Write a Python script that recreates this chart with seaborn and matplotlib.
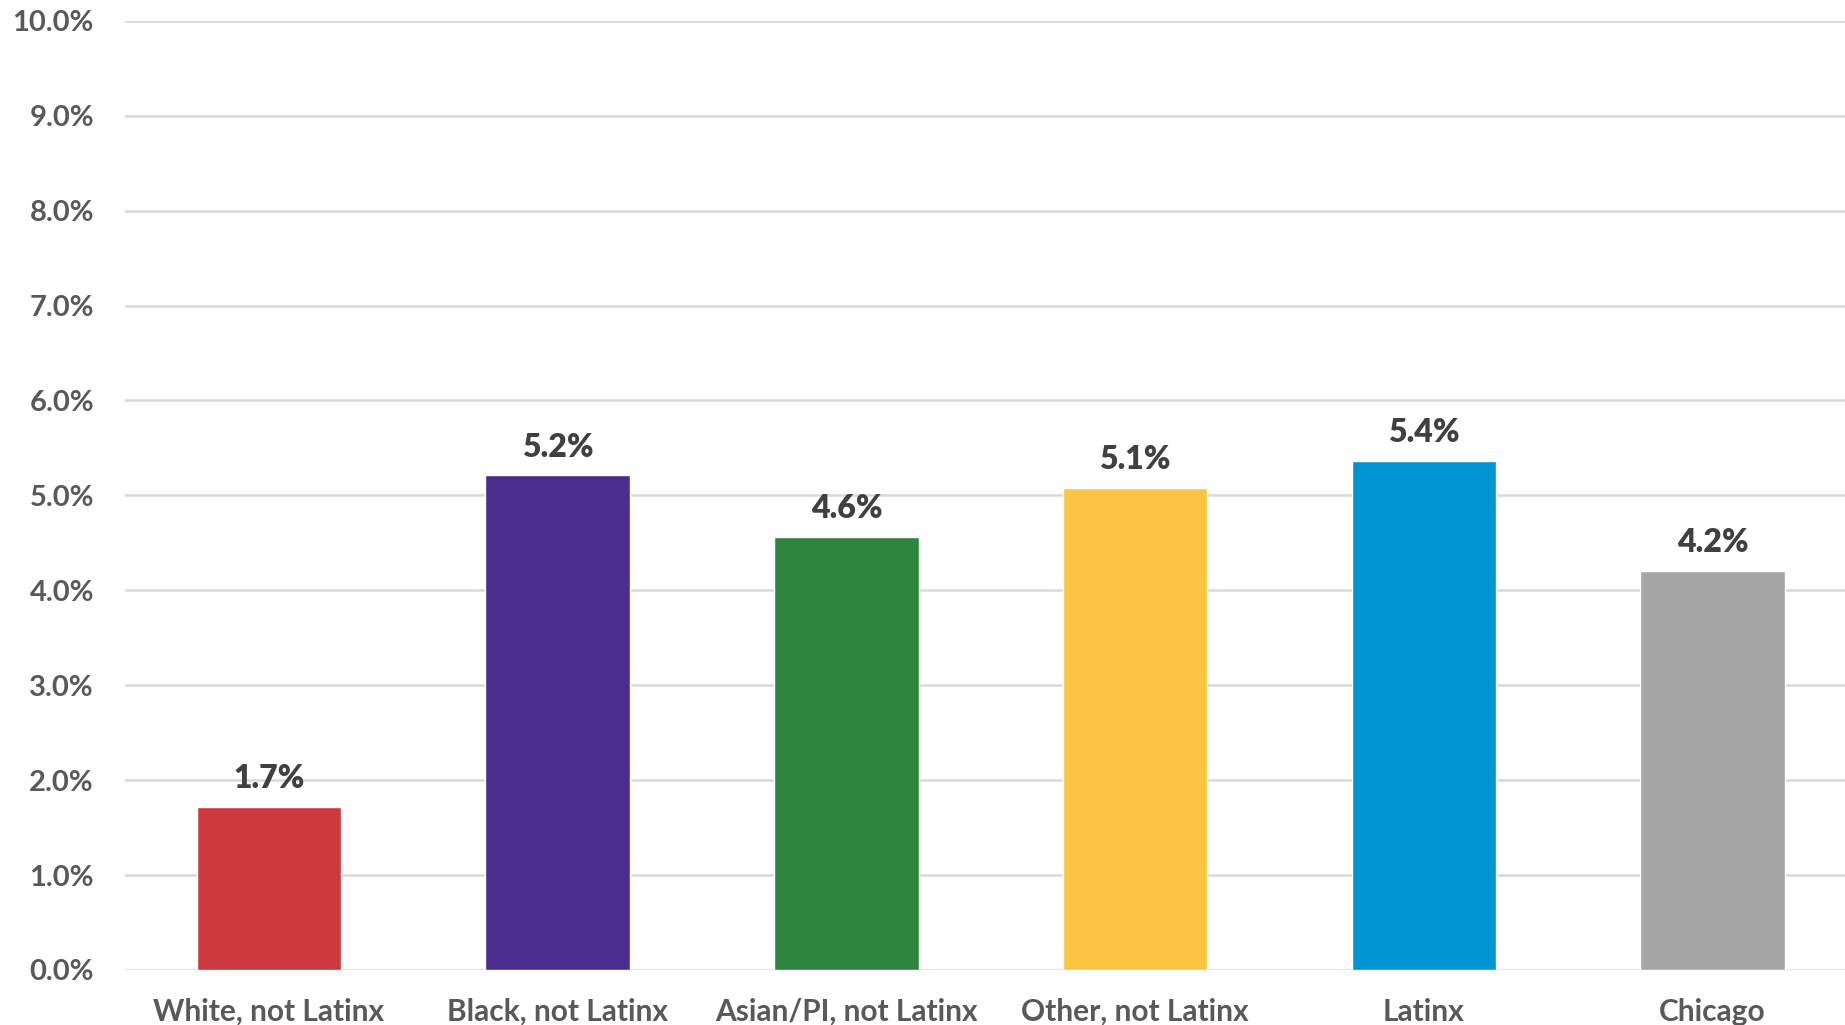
import matplotlib
matplotlib.use("Agg")
import matplotlib.pyplot as plt
import seaborn as sns
import pandas as pd
from matplotlib.ticker import PercentFormatter

# data (percent)
categories = ["White, not Latinx", "Black, not Latinx", "Asian/PI, not Latinx",
              "Other, not Latinx", "Latinx", "Chicago"]
values = [1.72, 5.21, 4.56, 5.08, 5.36, 4.20]
colors = ["#CC3A40", "#4B2C8F", "#2E8540", "#FBC543", "#0093D2", "#A6A6A6"]

df = pd.DataFrame({"group": categories, "pct": values})

sns.set_style("white")
plt.rcParams["font.family"] = ["Lato", "DejaVu Sans"]

fig = plt.figure(figsize=(18.45, 10.25), dpi=100)
# plot area runs slightly past the right edge, as in the reference
ax = fig.add_axes([0.0675, 0.0537, 0.939, 0.926])

sns.barplot(data=df, x="group", y="pct", hue="group", palette=colors,
            width=0.5, legend=False, ax=ax, saturation=1)

ax.set_ylim(0, 10)
ax.set_xlim(-0.5, len(categories) - 0.5)
ax.set_yticks(range(0, 11))
ax.yaxis.set_major_formatter(PercentFormatter(decimals=1))
ax.grid(axis="y", color="#D9D9D9", linewidth=1.8)
ax.set_axisbelow(True)
for s in ax.spines.values():
    s.set_visible(False)
ax.set_xlabel("")
ax.set_ylabel("")
ax.tick_params(axis="y", length=0, pad=22, labelsize=21, labelcolor="#595959")
ax.tick_params(axis="x", length=0, pad=20, labelsize=21.5, labelcolor="#595959")
for lab in ax.get_yticklabels() + ax.get_xticklabels():
    lab.set_fontweight("bold")

# value labels above bars
for cont in ax.containers:
    ax.bar_label(cont, fmt="%.1f%%", padding=10, fontsize=23, fontweight="heavy",
                 color="#404040")

fig.savefig("out.png", dpi=100)
